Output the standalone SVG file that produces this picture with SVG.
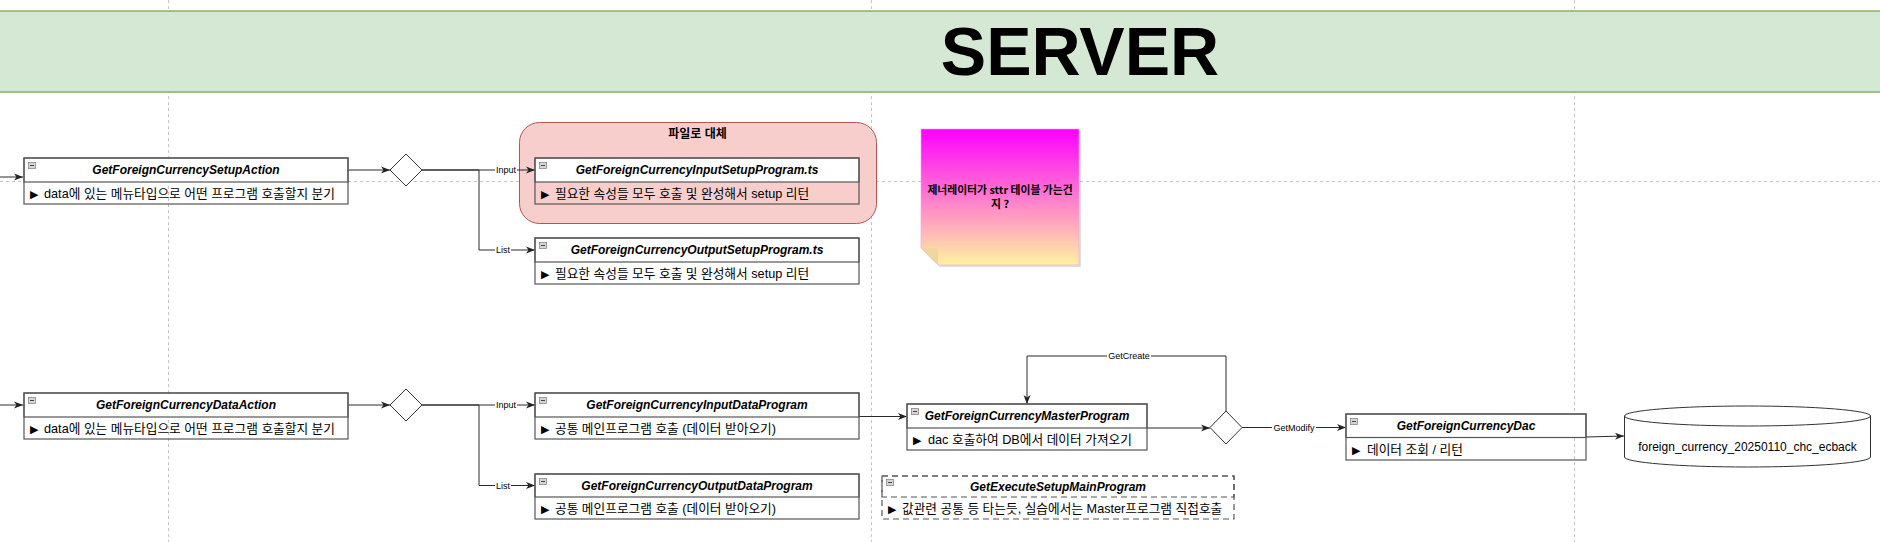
<svg xmlns="http://www.w3.org/2000/svg" width="1880" height="542" viewBox="0 0 1880 542">
<defs>
<marker id="arr" markerWidth="10" markerHeight="8" refX="9" refY="4" orient="auto" markerUnits="userSpaceOnUse">
<path d="M0,0.5 L9,4 L0,7.5 L2.5,4 Z" fill="#222"/>
</marker>
<linearGradient id="noteGrad" x1="0" y1="0" x2="0" y2="1">
<stop offset="0" stop-color="#ff00ff"/>
<stop offset="1" stop-color="#fff2a0"/>
</linearGradient>
<style>
.grid{stroke:#c4c4c4;stroke-width:1;stroke-dasharray:3 3;fill:none}
.box{fill:none;stroke:#555;stroke-width:1.2}
.hdr{fill:#fff;stroke:#555;stroke-width:1.2}
.dash{stroke-dasharray:6 4}
.icon{fill:#d6d6d6;stroke:#888;stroke-width:0.8}
.iconm{stroke:#444;stroke-width:1}
.ht{font-family:"Liberation Sans","Noto Sans CJK KR",sans-serif;font-size:12px;font-weight:bold;font-style:italic;text-anchor:middle;fill:#000}
.bt{font-family:"Liberation Sans","Noto Sans CJK KR",sans-serif;font-size:12.7px;fill:#000}
.tri{font-family:"DejaVu Sans",sans-serif;font-size:11px;fill:#000}
.edge{fill:none;stroke:#2a2a2a;stroke-width:1}
.lbl{font-family:"Liberation Sans",sans-serif;font-size:9px;text-anchor:middle;fill:#000}
.lblbg{fill:#fff}
.dia{fill:#fff;stroke:#333;stroke-width:1}
</style>
</defs>
<rect width="1880" height="542" fill="#fff"/>
<g id="grid">
<line class="grid" x1="168.5" y1="0" x2="168.5" y2="542"/>
<line class="grid" x1="871.5" y1="0" x2="871.5" y2="542"/>
<line class="grid" x1="1574.5" y1="0" x2="1574.5" y2="542"/>
<line class="grid" x1="0" y1="181.5" x2="1880" y2="181.5"/>
</g>
<g id="server-band">
<rect x="-10" y="11" width="1900" height="81" fill="#d5e8d4" stroke="#82b366" stroke-width="1.5"/>
<text x="1080" y="75" font-family="Liberation Sans,Arial,sans-serif" font-size="68" font-weight="bold" text-anchor="middle" fill="#000">SERVER</text>
</g>
<g id="file-group">
<rect x="519.5" y="122.5" width="357" height="101" rx="20" fill="#f8cecc" stroke="#b85450" stroke-width="1"/>
<text x="697.5" y="138" font-family="Liberation Sans,'Noto Sans CJK KR',sans-serif" font-size="12" font-weight="bold" text-anchor="middle" fill="#000">파일로 대체</text>
</g>
<g id="note">
<path d="M923,131 H1081 V267 H940 L923,250 Z" fill="#000" opacity="0.12"/>
<path d="M921,129 H1079 V265 H938 L921,248 Z" fill="url(#noteGrad)" stroke="#f0a0f0" stroke-width="0.6"/>
<path d="M921,248 H938 V265 Z" fill="#f0d6a0"/>
<text font-family="'Noto Sans CJK KR',sans-serif" font-size="10.8" font-weight="bold" text-anchor="middle" fill="#000"><tspan x="1000" y="194">제너레이터가 sttr 테이블 가는건</tspan><tspan x="1000" y="208">지 ?</tspan></text>
</g>
<g id="connectors">
<line class="edge" x1="0" y1="177" x2="23" y2="177" marker-end="url(#arr)"/>
<line class="edge" x1="0" y1="405" x2="23" y2="405" marker-end="url(#arr)"/>
<line class="edge" x1="348" y1="170" x2="390" y2="170" marker-end="url(#arr)"/>
<line class="edge" x1="348" y1="405" x2="390" y2="405" marker-end="url(#arr)"/>
<line class="edge" x1="422" y1="170" x2="535" y2="170" marker-end="url(#arr)"/>
<polyline class="edge" points="422,170 479,170 479,250 535,250" marker-end="url(#arr)"/>
<line class="edge" x1="422" y1="405" x2="535" y2="405" marker-end="url(#arr)"/>
<polyline class="edge" points="422,405 479,405 479,485.5 535,485.5" marker-end="url(#arr)"/>
<line class="edge" x1="859" y1="416.5" x2="907" y2="416.5" marker-end="url(#arr)"/>
<line class="edge" x1="1147" y1="428" x2="1210" y2="428" marker-end="url(#arr)"/>
<polyline class="edge" points="1226,411 1226,356 1027,356 1027,404" marker-end="url(#arr)"/>
<line class="edge" x1="1242" y1="427.5" x2="1346" y2="427.5" marker-end="url(#arr)"/>
<line class="edge" x1="1586" y1="437" x2="1624" y2="436" marker-end="url(#arr)"/>
<rect class="lblbg" x="495" y="164" width="22" height="11"/>
<text class="lbl" x="506" y="173">Input</text>
<rect class="lblbg" x="495" y="244" width="16" height="11"/>
<text class="lbl" x="503" y="253">List</text>
<rect class="lblbg" x="495" y="399" width="22" height="11"/>
<text class="lbl" x="506" y="408">Input</text>
<rect class="lblbg" x="495" y="479.5" width="16" height="11"/>
<text class="lbl" x="503" y="488.5">List</text>
<rect class="lblbg" x="1107" y="350" width="44" height="11"/>
<text class="lbl" x="1129" y="359">GetCreate</text>
<rect class="lblbg" x="1272" y="421.5" width="44" height="11"/>
<text class="lbl" x="1294" y="430.5">GetModify</text>
</g>
<g id="decision1"><polygon class="dia" points="406,154 422,170 406,186 390,170"/></g>
<g id="decision2"><polygon class="dia" points="406,389 422,405 406,421 390,405"/></g>
<g id="decision3"><polygon class="dia" points="1226,411 1242,427.5 1226,444 1210,427.5"/></g>
<g id="GetForeignCurrencySetupAction">
<rect class="hdr" x="24" y="158" width="324" height="24"/>
<rect class="box" x="24" y="158" width="324" height="46"/>
<rect class="icon" x="28.5" y="162.5" width="7" height="6"/><line class="iconm" x1="30" y1="165.5" x2="34" y2="165.5"/>
<text class="ht" x="186" y="174">GetForeignCurrencySetupAction</text>
<text class="bt" y="198"><tspan class="tri" x="30">▶</tspan><tspan x="44">data에 있는 메뉴타입으로 어떤 프로그램 호출할지 분기</tspan></text>
</g>
<g id="GetForeignCurrencyInputSetupProgram">
<rect class="hdr" x="535" y="158" width="324" height="24"/>
<rect class="box" x="535" y="158" width="324" height="46"/>
<rect class="icon" x="539.5" y="162.5" width="7" height="6"/><line class="iconm" x1="541" y1="165.5" x2="545" y2="165.5"/>
<text class="ht" x="697" y="174">GetForeignCurrencyInputSetupProgram.ts</text>
<text class="bt" y="198"><tspan class="tri" x="541">▶</tspan><tspan x="555">필요한 속성들 모두 호출 및 완성해서 setup 리턴</tspan></text>
</g>
<g id="GetForeignCurrencyOutputSetupProgram">
<rect class="hdr" x="535" y="238" width="324" height="24"/>
<rect class="box" x="535" y="238" width="324" height="46"/>
<rect class="icon" x="539.5" y="242.5" width="7" height="6"/><line class="iconm" x1="541" y1="245.5" x2="545" y2="245.5"/>
<text class="ht" x="697" y="254">GetForeignCurrencyOutputSetupProgram.ts</text>
<text class="bt" y="278"><tspan class="tri" x="541">▶</tspan><tspan x="555">필요한 속성들 모두 호출 및 완성해서 setup 리턴</tspan></text>
</g>
<g id="GetForeignCurrencyDataAction">
<rect class="hdr" x="24" y="393" width="324" height="24"/>
<rect class="box" x="24" y="393" width="324" height="46"/>
<rect class="icon" x="28.5" y="397.5" width="7" height="6"/><line class="iconm" x1="30" y1="400.5" x2="34" y2="400.5"/>
<text class="ht" x="186" y="409">GetForeignCurrencyDataAction</text>
<text class="bt" y="433"><tspan class="tri" x="30">▶</tspan><tspan x="44">data에 있는 메뉴타입으로 어떤 프로그램 호출할지 분기</tspan></text>
</g>
<g id="GetForeignCurrencyInputDataProgram">
<rect class="hdr" x="535" y="393" width="324" height="24"/>
<rect class="box" x="535" y="393" width="324" height="46"/>
<rect class="icon" x="539.5" y="397.5" width="7" height="6"/><line class="iconm" x1="541" y1="400.5" x2="545" y2="400.5"/>
<text class="ht" x="697" y="409">GetForeignCurrencyInputDataProgram</text>
<text class="bt" y="433"><tspan class="tri" x="541">▶</tspan><tspan x="555">공통 메인프로그램 호출 (데이터 받아오기)</tspan></text>
</g>
<g id="GetForeignCurrencyOutputDataProgram">
<rect class="hdr" x="535" y="474" width="324" height="23"/>
<rect class="box" x="535" y="474" width="324" height="45"/>
<rect class="icon" x="539.5" y="478.5" width="7" height="6"/><line class="iconm" x1="541" y1="481.5" x2="545" y2="481.5"/>
<text class="ht" x="697" y="490">GetForeignCurrencyOutputDataProgram</text>
<text class="bt" y="513"><tspan class="tri" x="541">▶</tspan><tspan x="555">공통 메인프로그램 호출 (데이터 받아오기)</tspan></text>
</g>
<g id="GetForeignCurrencyMasterProgram">
<rect class="hdr" x="907" y="404" width="240" height="24"/>
<rect class="box" x="907" y="404" width="240" height="46"/>
<rect class="icon" x="911.5" y="408.5" width="7" height="6"/><line class="iconm" x1="913" y1="411.5" x2="917" y2="411.5"/>
<text class="ht" x="1027" y="420">GetForeignCurrencyMasterProgram</text>
<text class="bt" y="444"><tspan class="tri" x="913">▶</tspan><tspan x="928">dac 호출하여 DB에서 데이터 가져오기</tspan></text>
</g>
<g id="GetExecuteSetupMainProgram">
<rect class="hdr dash" x="882" y="476" width="352" height="21"/>
<rect class="box dash" x="882" y="476" width="352" height="43"/>
<rect class="icon" x="886.5" y="479.5" width="7" height="6"/><line class="iconm" x1="888" y1="482.5" x2="892" y2="482.5"/>
<text class="ht" x="1058" y="491">GetExecuteSetupMainProgram</text>
<text class="bt" y="513"><tspan class="tri" x="888">▶</tspan><tspan x="902">값관련 공통 등 타는듯, 실습에서는 Master프로그램 직접호출</tspan></text>
</g>
<g id="GetForeignCurrencyDac">
<rect class="hdr" x="1346" y="414" width="240" height="23.5"/>
<rect class="box" x="1346" y="414" width="240" height="46"/>
<rect class="icon" x="1350.5" y="418.5" width="7" height="6"/><line class="iconm" x1="1352" y1="421.5" x2="1356" y2="421.5"/>
<text class="ht" x="1466" y="430">GetForeignCurrencyDac</text>
<text class="bt" y="454"><tspan class="tri" x="1352">▶</tspan><tspan x="1367">데이터 조회 / 리턴</tspan></text>
</g>
<g id="db-foreign_currency">
<path d="M1624.5,416 A123,10 0 0,1 1870.5,416 V457 A123,10 0 0,1 1624.5,457 Z" fill="#fff" stroke="#333" stroke-width="1"/>
<path d="M1624.5,416 A123,10 0 0,0 1870.5,416" fill="none" stroke="#333" stroke-width="1"/>
<text x="1747.5" y="451" font-family="Liberation Sans,sans-serif" font-size="12" text-anchor="middle" fill="#000">foreign_currency_20250110_chc_ecback</text>
</g>
</svg>
